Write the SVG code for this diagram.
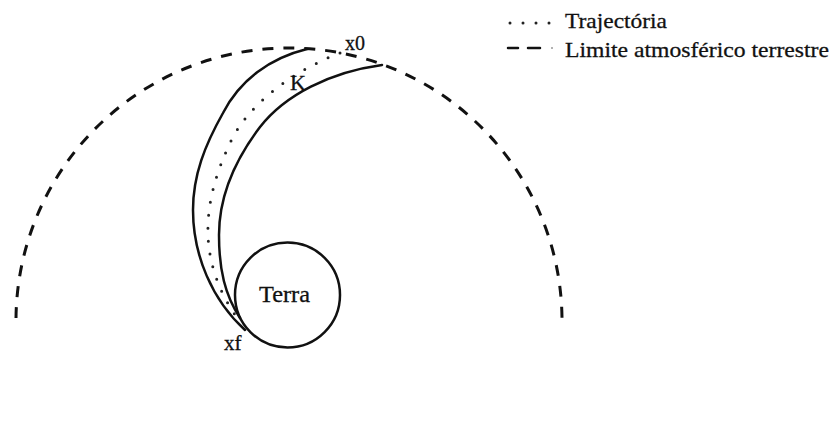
<svg xmlns="http://www.w3.org/2000/svg" width="835" height="423" viewBox="0 0 835 423">
<style>
.bg{fill:#fff}
.solid{fill:none;stroke:#111;stroke-width:2.5;stroke-linecap:round}
.dash{fill:none;stroke:#111;stroke-width:3;stroke-dasharray:11 10}
.dot{fill:none;stroke:#222;stroke-width:3;stroke-linecap:round;stroke-dasharray:0 13}
.lbl{fill:#111;stroke:#111;stroke-width:0.3;font-family:'Liberation Serif','Times New Roman',Times,serif}
</style>
<rect class="bg" x="0" y="0" width="835" height="423"/>
<g id="atmosphere">
<path class="dash" d="M16,318 A273,273 0 0 1 562,324"/>
</g>
<g id="earth">
<circle class="solid" cx="287.5" cy="295" r="52.5"/>
<text class="lbl" x="259" y="302" font-size="24" textLength="51" lengthAdjust="spacingAndGlyphs">Terra</text>
</g>
<g id="connectors">
<path id="outer" class="solid" d="M307,49 C270,58 240,80 223,113 C205,145 193,175 193,210 C193,255 212,300 245,330"/>
<path id="inner" class="solid" d="M382,65 C330,72 285,95 260,127 C235,160 219,195 219,235 C219,270 225,295 240,318"/>
<path id="trajectory" class="dot" d="M340,53 C300,68 250,100 230,143 C215,175 207,205 208,235 C209,265 220,295 240,322"/>
</g>
<g id="x0">
<text class="lbl" x="345" y="50" font-size="20">x0</text>
</g>
<g id="K">
<text class="lbl" x="290" y="90" font-size="22">K</text>
</g>
<g id="xf">
<text class="lbl" x="224" y="350" font-size="21">xf</text>
</g>
<g id="legend">
<path class="dot" d="M510,23 L552,23" stroke-dasharray="0 13.5"/>
<text class="lbl" x="565" y="28" font-size="22" textLength="102" lengthAdjust="spacingAndGlyphs">Trajectória</text>
<path class="solid" d="M508,48 L518,48 M528,48 L540,48" stroke-width="3" stroke-linecap="butt"/>
<circle cx="552" cy="48" r="1" fill="#999"/>
<text class="lbl" x="565" y="57" font-size="22" textLength="264" lengthAdjust="spacingAndGlyphs">Limite atmosférico terrestre</text>
</g>
</svg>
